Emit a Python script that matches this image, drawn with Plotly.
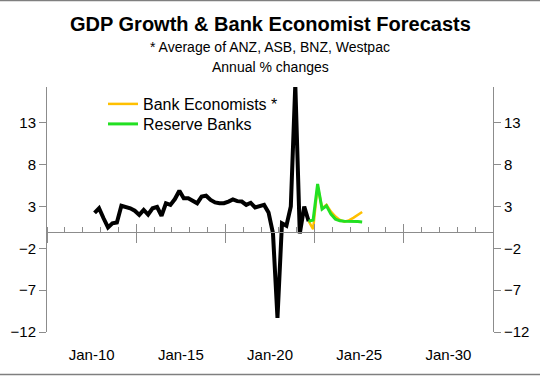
import plotly.graph_objects as go

# ---------------- data ----------------
gdp_dates = [f"{y}-{m:02d}-01" for y in range(2010, 2022) for m in (3, 6, 9, 12)] + ["2022-03-01"]
gdp_values = [
    2.25, 2.8, 1.6, 0.5,
    1.0, 1.1, 3.1, 3.0,
    2.8, 2.5, 2.0, 2.6,
    2.05, 2.8, 2.95, 1.9,
    3.4, 3.2, 3.9, 4.9,
    4.0, 4.0, 3.7, 3.4,
    4.2, 4.3, 3.8, 3.5,
    3.4, 3.4, 3.6, 3.85,
    3.65, 3.6, 3.2, 3.45,
    2.9, 3.0, 3.2, 2.3,
    -0.2, -10.3, 1.0, 0.7,
    3.0, 17.6, -0.2, 3.0,
    1.25,
]
fc_dates = [f"{y}-{m:02d}-01" for y in range(2022, 2025) for m in (3, 6, 9, 12)] + ["2025-03-01"]
bank_economists = [1.25, 0.3, 5.5, 2.8, 3.2, 2.4, 1.8, 1.4, 1.2, 1.35, 1.65, 2.0, 2.35]
reserve_banks = [1.25, 1.4, 5.7, 2.7, 3.1, 2.1, 1.5, 1.3, 1.25, 1.25, 1.2, 1.2, 1.15]

x_label_vals = ["2010-01-01", "2015-01-01", "2020-01-01", "2025-01-01", "2030-01-01"]
x_label_text = ["Jan-10", "Jan-15", "Jan-20", "Jan-25", "Jan-30"]
y_tick_vals = [-12, -7, -2, 3, 8, 13]

title = "GDP Growth & Bank Economist Forecasts"
subtitle1 = "* Average of ANZ, ASB, BNZ, Westpac"
subtitle2 = "Annual % changes"

# ---------------- layout constants ----------------
FONT = "Liberation Sans, Arial, sans-serif"
GREY = "#8c8c8c"
X_RANGE = ["2007-07-01", "2032-07-01"]
Y_RANGE = [-12, 17.3]
W, H = 540, 376
ML, MR, MT, MB = 47, 47, 87, 44
PW = W - ML - MR
PH = H - MT - MB
zero_pos = (0 - Y_RANGE[0]) / (Y_RANGE[1] - Y_RANGE[0])


def py(ypx):
    return (H - MB - ypx) / PH


def px(xpx):
    return (xpx - ML) / PW


fig = go.Figure()
fig.add_trace(go.Scatter(x=fc_dates, y=bank_economists, mode="lines", name="Bank Economists *",
                         line=dict(color="#FFC000", width=2.5), xaxis="x", yaxis="y",
                         legend="legend"))
fig.add_trace(go.Scatter(x=gdp_dates, y=gdp_values, mode="lines",
                         line=dict(color="black", width=4), showlegend=False,
                         xaxis="x2", yaxis="y"))
fig.add_trace(go.Scatter(x=fc_dates, y=reserve_banks, mode="lines", name="Reserve Banks",
                         line=dict(color="#22E022", width=3), xaxis="x3", yaxis="y2",
                         legend="legend2"))

common_x = dict(range=X_RANGE, type="date", showgrid=False, zeroline=False, automargin=False)
common_y = dict(range=Y_RANGE, tickvals=y_tick_vals, showgrid=False, zeroline=False,
                showline=True, linecolor=GREY, linewidth=1, ticks="outside", ticklen=7,
                tickcolor=GREY, tickfont=dict(size=15), automargin=False)

fig.update_layout(
    width=W, height=H,
    margin=dict(l=ML, r=MR, t=MT, b=MB),
    paper_bgcolor="white", plot_bgcolor="white",
    font=dict(family=FONT, color="black", size=15),
    xaxis=dict(**common_x, showline=False,
               tickvals=x_label_vals, ticktext=x_label_text, ticks="outside", ticklen=9,
               tickcolor="rgba(0,0,0,0)", tickfont=dict(size=15)),
    xaxis2=dict(**common_x, overlaying="x", anchor="free", position=zero_pos,
                showline=True, linecolor=GREY, linewidth=1,
                tick0="2007-07-01", dtick="M60", ticks="outside", ticklen=10, tickcolor=GREY,
                showticklabels=False,
                minor=dict(tick0="2007-07-01", dtick="M12", ticks="inside", ticklen=5,
                           tickcolor=GREY)),
    xaxis3=dict(**common_x, overlaying="x", anchor="free", position=zero_pos,
                showline=False,
                tick0="2007-07-01", dtick="M60", ticks="inside", ticklen=8, tickcolor=GREY,
                showticklabels=False),
    yaxis=dict(**common_y, side="left"),
    yaxis2=dict(**common_y, overlaying="y", side="right", anchor="x"),
    legend=dict(x=px(103), y=py(87), xanchor="left", yanchor="top",
                bgcolor="rgba(0,0,0,0)", font=dict(size=16)),
    legend2=dict(x=px(103), y=py(107), xanchor="left", yanchor="top",
                 bgcolor="rgba(0,0,0,0)", font=dict(size=16)),
    annotations=[
        dict(text=f"<b>{title}</b>", x=0.5, y=py(24), xref="paper", yref="paper",
             showarrow=False, font=dict(size=20), xanchor="center", yanchor="middle"),
        dict(text=subtitle1, x=0.5, y=py(47), xref="paper", yref="paper",
             showarrow=False, font=dict(size=14), xanchor="center", yanchor="middle"),
        dict(text=subtitle2, x=0.5, y=py(67), xref="paper", yref="paper",
             showarrow=False, font=dict(size=14), xanchor="center", yanchor="middle"),
    ],
    shapes=[
        dict(type="line", xref="paper", yref="paper", x0=px(0), x1=px(W),
             y0=py(0.5), y1=py(0.5), line=dict(color="#7f7f7f", width=1.5)),
        dict(type="line", xref="paper", yref="paper", x0=px(0), x1=px(W),
             y0=py(374.5), y1=py(374.5), line=dict(color="#7f7f7f", width=1.5)),
    ],
)

fig.write_html("out.html", config={"displayModeBar": False},
               post_script="document.body.style.margin='0';document.body.style.padding='0';")
